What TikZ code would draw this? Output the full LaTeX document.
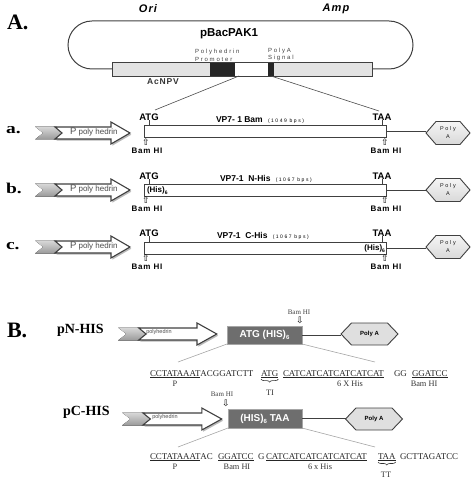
\documentclass[tikz,border=0pt]{standalone}
\usepackage{fontspec}
\usepackage{graphicx}
\usetikzlibrary{decorations.pathreplacing}
\setmainfont{Liberation Serif}
\setsansfont{Liberation Sans}
\newfontfamily\dvfont{DejaVu Sans}
\newfontfamily\lsfont[LetterSpace=30]{Liberation Sans}
\newfontfamily\lsbfont[LetterSpace=10]{Liberation Sans}
\newcommand\myfs[1]{\fontsize{#1}{#1}\selectfont}
\definecolor{outl}{HTML}{404040}
\definecolor{boxdark}{HTML}{6E6E6E}
\tikzset{
  promo/.pic={
    \fill[top color=gray!30, bottom color=gray!80] (0,-6.5) -- (21,-6.5) -- (29,0) -- (21,6.5) -- (0,6.5) -- (8,0) -- cycle;
    \begin{scope}[shift={(1.3,1.7)}]
      \fill[gray!55] (20,-6) -- (76,-6) -- (76,-11) -- (95,0) -- (76,11) -- (76,6) -- (20,6) -- (27,0) -- cycle;
    \end{scope}
    \draw[outl, fill=white, line width=1.1, line join=miter] (20,-6) -- (76,-6) -- (76,-11) -- (95,0) -- (76,11) -- (76,6) -- (20,6) -- (27,0) -- cycle;
  },
  hexA/.pic={
    \draw[outl, line width=0.9, top color=gray!8, bottom color=gray!30] (-22,0) -- (-12,-11.5) -- (12,-11.5) -- (22,0) -- (12,11.5) -- (-12,11.5) -- cycle;
    \coordinate (-w) at (-22,0);
  },
  hexB/.pic={
    \draw[outl, line width=0.9, fill=gray!25] (-28.5,0) -- (-18,-11) -- (18,-11) -- (28.5,0) -- (18,11) -- (-18,11) -- cycle;
    \coordinate (-w) at (-28.5,0);
  },
}
\begin{document}
\begin{tikzpicture}[x=1pt,y=-1pt,
  every node/.style={inner sep=0pt, outer sep=0pt},
  bigL/.style={font=\myfs{22}\bfseries, anchor=west},
  rowL/.style={font=\myfs{15}\bfseries, anchor=west},
  lab/.style={font=\sffamily\bfseries\myfs{9.5}},
  bam/.style={font=\lsbfont\bfseries\myfs{8}},
  hol/.style={font=\dvfont\myfs{9}},
  gene/.style={draw=outl, fill=white, line width=0.9, minimum width=242, minimum height=12},
  vp/.style={font=\sffamily\bfseries\myfs{8.5}, anchor=west},
  ptxt/.style={font=\sffamily\myfs{8}, text=black!70, anchor=west},
  hexT/.style={font=\lsfont\fontsize{5.5}{8}\selectfont, align=center, text=black!90},
  tiny/.style={font=\lsfont\fontsize{6}{7.5}\selectfont, text=black!75, align=left, anchor=west},
  seq/.style={font=\myfs{8.9}, anchor=base west, text=black!85},
  seql/.style={font=\myfs{8.3}, anchor=base, text=black!80},
  dbox/.style={fill=boxdark, draw=gray!70, line width=0.6, text=white, font=\sffamily\bfseries\myfs{10}},
  conn/.style={draw=outl, line width=0.8},
  thinl/.style={draw=gray!60!black, line width=0.6},
  brc/.style={decorate, decoration={brace, amplitude=3pt, mirror}, draw=black!80, line width=0.6},
]
\useasboundingbox (0,0) rectangle (474,478);

% ---------------- Section A ----------------
\node[bigL] (A) at (7,22) {A.};
\node[font=\lsbfont\bfseries\itshape\myfs{11}] (ori) at (148,9) {Ori};
\node[font=\lsbfont\bfseries\itshape\myfs{11}] (amp) at (336,9) {Amp};
\node[font=\sffamily\bfseries\myfs{11.5}] (pbac) at (229,34) {pBacPAK1};

\node[draw=outl, fill=gray!22, line width=0.8, minimum width=260, minimum height=14, anchor=north west] (bar) at (112,62) {};
\node[fill=black!85, minimum width=25, minimum height=14, anchor=north west] (prom) at (210,62) {};
\node[fill=white, minimum width=33, minimum height=14, anchor=north west] (ins) at (235,62) {};
\node[fill=black!85, minimum width=6, minimum height=14, anchor=north west] (pAs) at (268,62) {};
\draw[outl, line width=0.8] (bar.north west) rectangle (bar.south east);
\draw[outl, line width=1] (bar.west) -- (92,69) arc[start angle=90, end angle=270, radius=24] -- (389,21) arc[start angle=-90, end angle=90, radius=24] -- (bar.east);

\node[tiny] (phtxt) at (195,55.5) {Polyhedrin\\Promoter};
\node[tiny] (pAtxt) at (268,54.5) {PolyA\\Signal};
\node[font=\lsbfont\bfseries\myfs{8.5}, text=black!80] (acnpv) at (163,82) {AcNPV};

\coordinate (lfree) at (155,110);
\coordinate (rfree) at (379,111);
\draw[thinl] ([xshift=4pt]ins.south west) -- (lfree);
\draw[thinl] (pAs.south) -- (rfree);

% row a
\node[rowL] (rla) at (6,130) {\scalebox{1.3}[1]{a.}};
\pic at (35,133) {promo};
\node[ptxt] (pa) at (70,132) {{\myfs{9.5}P} poly hedrin};
\node[gene] (ga) at (265,131) {};
\node[lab] (atga) at (149,117) {ATG};
\node[lab] (taaa) at (382,117) {TAA};
\draw[conn] (atga.south) -- (atga.south |- ga.north);
\draw[conn] (taaa.south) -- (taaa.south |- ga.north);
\node[vp] (vpa) at (216,120) {VP7- 1 Bam {\lsfont\mdseries\myfs{5} (1049 bps)}};
\node[hol] (ua1) at (146,142) {⇧};
\node[bam] (bama1) at (147,150.5) {Bam HI};
\node[hol] (ua2) at (385,142) {⇧};
\node[bam] (bama2) at (386,150.5) {Bam HI};
\pic (hA) at (448,133) {hexA};
\node[hexT] (hat) at (448,133) {Poly\\A};
\draw[conn] (ga.east) -- (ga.east -| hA-w);

% row b
\node[rowL] (rlb) at (6,188) {\scalebox{1.3}[1]{b.}};
\pic at (35,190) {promo};
\node[ptxt] (pb) at (70,189) {{\myfs{9.5}P} poly hedrin};
\node[gene] (gb) at (265,190) {};
\node[lab] (atgb) at (149,176) {ATG};
\node[lab] (taab) at (382,176) {TAA};
\draw[conn] (atgb.south) -- (atgb.south |- gb.north);
\draw[conn] (taab.south) -- (taab.south |- gb.north);
\node[vp] (vpb) at (220,179) {VP7-1\ \ N-His {\lsfont\mdseries\myfs{5} (1067 bps)}};
\node[font=\sffamily\bfseries\myfs{8}, anchor=west] (hisb) at (147,190.5) {(His)\raisebox{-1.5pt}{\myfs{5}6}};
\node[hol] (ub1) at (146,200) {⇧};
\node[bam] (bamb1) at (147,208.5) {Bam HI};
\node[hol] (ub2) at (385,200) {⇧};
\node[bam] (bamb2) at (386,208.5) {Bam HI};
\pic (hB) at (448,190) {hexA};
\node[hexT] (hbt) at (448,190) {Poly\\A};
\draw[conn] (gb.east) -- (gb.east -| hB-w);

% row c
\node[rowL] (rlc) at (6,246) {\scalebox{1.3}[1]{c.}};
\pic at (35,247) {promo};
\node[ptxt] (pc) at (70,246) {{\myfs{9.5}P} poly hedrin};
\node[gene] (gc) at (265,248) {};
\node[lab] (atgc) at (149,233) {ATG};
\node[lab] (taac) at (382,233) {TAA};
\draw[conn] (atgc.south) -- (atgc.south |- gc.north);
\draw[conn] (taac.south) -- (taac.south |- gc.north);
\node[vp] (vpc) at (217,236) {VP7-1\ \ C-His {\lsfont\mdseries\myfs{5} (1067 bps)}};
\node[font=\sffamily\bfseries\myfs{8}, anchor=east] (hisc) at (385,248.5) {(His)\raisebox{-1.5pt}{\myfs{5}6}};
\node[hol] (uc1) at (146,258) {⇧};
\node[bam] (bamc1) at (147,266.5) {Bam HI};
\node[hol] (uc2) at (385,258) {⇧};
\node[bam] (bamc2) at (386,266.5) {Bam HI};
\pic (hC) at (448,247) {hexA};
\node[hexT] (hct) at (448,247) {Poly\\A};
\draw[conn] (gc.east) -- (gc.east -| hC-w);

% ---------------- Section B ----------------
\node[bigL] (B) at (7,330) {B.};

% pN-HIS
\node[font=\myfs{14}\bfseries, anchor=west] (pnh) at (57,330) {pN-HIS};
\pic[xscale=1.04] at (118,334) {promo};
\node[font=\sffamily\myfs{5.5}, text=black!70] (polyN) at (159,332) {polyhedrin};
\node[dbox, minimum width=75, minimum height=18] (bn) at (264.5,335) {ATG (HIS)\raisebox{-2pt}{\myfs{6}6}};
\node[font=\myfs{7}, text=black!75] (bamN) at (299,312) {Bam HI};
\node[hol] (dN) at (300,320.5) {⇩};
\pic (hN) at (369.5,334) {hexB};
\node[font=\sffamily\bfseries\myfs{6}] (hNt) at (369.5,334) {Poly A};
\draw[conn] (bn.east) -- (bn.east -| hN-w);
\coordinate (nl) at (178,362);
\coordinate (nr) at (375,362);
\draw[thinl, draw=gray!70] (bn.south west) -- (nl);
\draw[thinl, draw=gray!70] (bn.south east) -- (nr);

\node[seq] (sN1) at (150,376) {\underline{CCTATAAAT}ACGGATCTT};
\node[seq] (sN2) at (261,376) {\underline{ATG}};
\node[seq] (sN3) at (283,376) {\underline{CATCATCATCATCATCAT}};
\node[seq] (sN4) at (394,376) {GG};
\node[seq] (sN5) at (412,376) {\underline{GGATCC}};
\draw[brc] ([yshift=-1pt]sN2.south west) -- ([yshift=-1pt]sN2.south east);
\node[seql] (lNP) at (175,386) {P};
\node[seql] (lN6) at (350,386) {6 X His};
\node[seql] (lNB) at (424,386) {Bam HI};
\node[seql] (lNT) at (270,395) {TI};

% pC-HIS
\node[font=\myfs{14}\bfseries, anchor=west] (pch) at (63,412) {pC-HIS};
\pic[xscale=1.05] at (122,419) {promo};
\node[font=\sffamily\myfs{5.5}, text=black!70] (polyC) at (165,417) {polyhedrin};
\node[dbox, minimum width=74, minimum height=19] (bc) at (265,418.5) {(HIS)\raisebox{-2pt}{\myfs{6}6} TAA};
\node[font=\myfs{7}, text=black!75] (bamC) at (222,394) {Bam HI};
\node[hol] (dC) at (226,403) {⇩};
\pic (hCc) at (374,419) {hexB};
\node[font=\sffamily\bfseries\myfs{6}] (hCt) at (374,419) {Poly A};
\draw[conn] (bc.east) -- (bc.east -| hCc-w);
\coordinate (cl) at (178,447);
\coordinate (cr) at (375,447);
\draw[thinl, draw=gray!70] (bc.south west) -- (cl);
\draw[thinl, draw=gray!70] (bc.south east) -- (cr);

\node[seq] (sC1) at (150,459) {\underline{CCTATAAAT}AC};
\node[seq] (sC2) at (218,459) {\underline{GGATCC}};
\node[seq] (sC3) at (258,459) {G};
\node[seq] (sC4) at (266,459) {\underline{CATCATCATCATCATCAT}};
\node[seq] (sC5) at (378,459) {\underline{TAA}};
\node[seq] (sC6) at (400,459) {GCTTAGATCC};
\draw[brc] ([yshift=-1pt]sC5.south west) -- ([yshift=-1pt]sC5.south east);
\node[seql] (lCP) at (175,469) {P};
\node[seql] (lCB) at (237,469) {Bam HI};
\node[seql] (lC6) at (320,469) {6 x His};
\node[seql] (lCT) at (386,477) {TT};
\end{tikzpicture}
\end{document}
